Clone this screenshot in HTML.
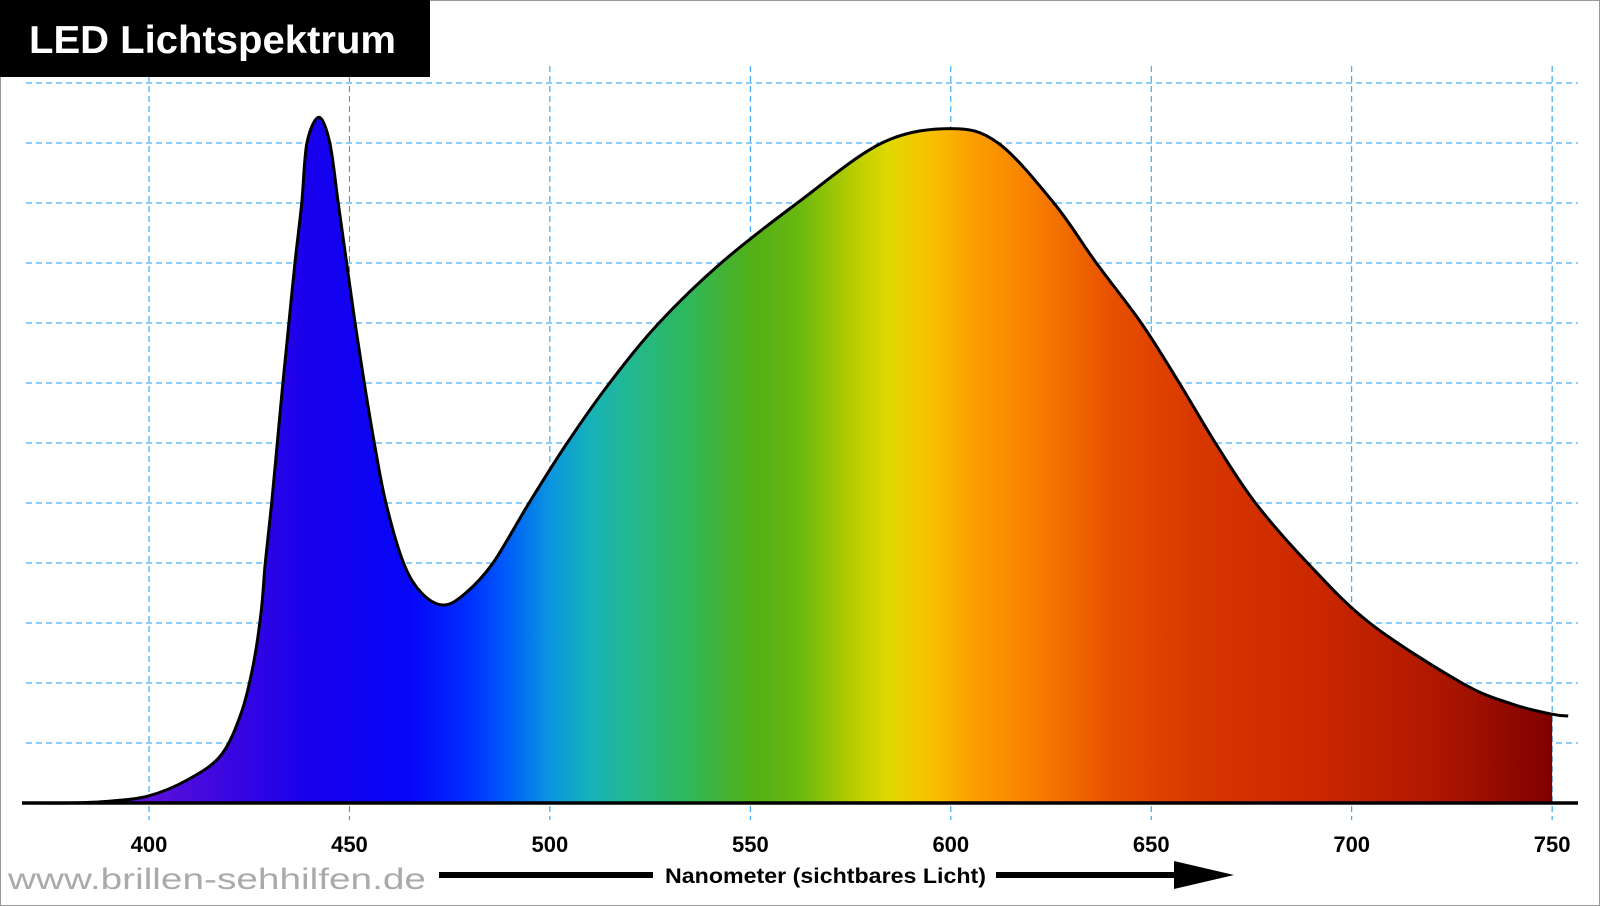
<!DOCTYPE html>
<html><head><meta charset="utf-8"><style>
html,body{margin:0;padding:0;background:#fff;}
svg{display:block;font-family:"Liberation Sans",sans-serif;}
</style></head><body>
<svg id="chart" width="1600" height="906" viewBox="0 0 1600 906" xmlns="http://www.w3.org/2000/svg">
<defs>
<linearGradient id="spec" gradientUnits="userSpaceOnUse" x1="0" y1="0" x2="1600" y2="0"></linearGradient>
<clipPath id="fillclip"><rect id="cliprect" x="0" y="0" width="0" height="906"></rect></clipPath>
</defs>
<rect x="0.5" y="0.5" width="1599" height="905" fill="#fff" stroke="#999"></rect>
<g id="grid"></g>
<path id="area" clip-path="url(#fillclip)" fill="url(#spec)"></path>
<path id="line" fill="none" stroke="#000" stroke-width="3"></path>
<line x1="22" y1="803" x2="1578" y2="803" stroke="#000" stroke-width="3.5"></line>
<g id="ticks"></g>
<rect x="0" y="0" width="430" height="77" fill="#000"></rect>
<text x="29" y="53" fill="#fff" font-size="39" font-weight="bold" textLength="367" lengthAdjust="spacingAndGlyphs">LED Lichtspektrum</text>
<text x="8" y="889" fill="#aaa" font-size="30" textLength="418" lengthAdjust="spacingAndGlyphs">www.brillen-sehhilfen.de</text>
<g>
<rect x="439" y="872" width="214" height="6" fill="#000"></rect>
<rect x="996" y="872" width="180" height="6" fill="#000"></rect>
<polygon points="1174,861 1234,875 1174,889" fill="#000"></polygon>
</g>
<text x="665" y="883" font-size="21" font-weight="bold" fill="#000" textLength="321" lengthAdjust="spacingAndGlyphs">Nanometer (sichtbares Licht)</text>
</svg>
<script>
const waveNm = [370,380,390,400,410,418,423,426,428,429,430.6,432,433.4,434.9,436.4,438.1,439.4,442.4,445.1,447.2,449.3,451.4,453.7,456.2,459.1,463.5,468,473.5,479,485.8,494.8,504.3,514.9,527.2,542.7,561.7,582.8,600,611.8,625.7,636.3,647.5,657,666,676,689,704.5,727.5,740,750,754];
const intensity = [0,0,0.03,0.12,0.4,0.8,1.5,2.3,3.2,4,5,6,7,8,9,10,11,11.43,11,10,9,8,7,6,5,4,3.5,3.3,3.5,4,5,6,7,8,9,10,11,11.24,11,10,9,8,7,6,5,4,3,2,1.65,1.48,1.45];
const tickNm = [400,450,500,550,600,650,700,750];
const tickLabels = ["400","450","500","550","600","650","700","750"];
const gridLevels = [1,2,3,4,5,6,7,8,9,10,11,12];
const gradStops = [[370,"#6a1ad0"],[400,"#5a10d8"],[420,"#3a06e0"],[440,"#1800ec"],[465,"#0606f8"],[480,"#0030ff"],[490,"#0060f8"],[500,"#0a95e0"],[510,"#16b2b8"],[520,"#22b890"],[535,"#30b858"],[550,"#52b018"],[562,"#68b810"],[575,"#b4cc00"],[585,"#e2d800"],[595,"#f8c000"],[605,"#fba000"],[620,"#f88000"],[640,"#e85000"],[660,"#d83800"],[690,"#cc2800"],[720,"#b01800"],[750,"#800000"]];
const NS="http://www.w3.org/2000/svg";
function xs(nm){return 149+(nm-400)*4.009;}
function ys(v){return 803-v*60;}
const g=document.getElementById('spec');
gradStops.forEach(s=>{const st=document.createElementNS(NS,'stop');st.setAttribute('offset',(xs(s[0])/1600).toFixed(4));st.setAttribute('stop-color',s[1]);g.appendChild(st);});
document.getElementById('cliprect').setAttribute('width',xs(750));
const grid=document.getElementById('grid');
gridLevels.forEach(l=>{const ln=document.createElementNS(NS,'line');


ln.setAttribute('x1',26);ln.setAttribute('x2',1578);ln.setAttribute('y1',ys(l));ln.setAttribute('y2',ys(l));
ln.setAttribute('stroke','#1a9af0');ln.setAttribute('stroke-dasharray','6,4');ln.setAttribute('stroke-width','1');grid.appendChild(ln);});
tickNm.forEach(n=>{const ln=document.createElementNS(NS,'line');


ln.setAttribute('x1',xs(n));ln.setAttribute('x2',xs(n));ln.setAttribute('y1',66);ln.setAttribute('y2',820);
ln.setAttribute('stroke','#1a9af0');ln.setAttribute('stroke-dasharray','6,4');ln.setAttribute('stroke-width','1');grid.appendChild(ln);});
const tk=document.getElementById('ticks');
tickNm.forEach((n,i)=>{const t=document.createElementNS(NS,'text');


t.setAttribute('x',xs(n));t.setAttribute('y',852);t.setAttribute('text-anchor','middle');t.setAttribute('font-size','22');t.setAttribute('font-weight','bold');t.setAttribute('fill','#000');t.textContent=tickLabels[i];tk.appendChild(t);});
const P=waveNm.map((n,i)=>[xs(n),ys(intensity[i])]);
let d='M'+P[0][0]+','+P[0][1];
for(let i=0;i<P.length-1;i++){const p0=P[Math.max(0,i-1)],p1=P[i],p2=P[i+1],p3=P[Math.min(P.length-1,i+2)];
let c1=[p1[0]+(p2[0]-p0[0])/6,p1[1]+(p2[1]-p0[1])/6],c2=[p2[0]-(p3[0]-p1[0])/6,p2[1]-(p3[1]-p1[1])/6];
d+=` C${c1[0].toFixed(2)},${c1[1].toFixed(2)} ${c2[0].toFixed(2)},${c2[1].toFixed(2)} ${p2[0].toFixed(2)},${p2[1].toFixed(2)}`;}
document.getElementById('line').setAttribute('d',d);
document.getElementById('area').setAttribute('d',d+` L${P[P.length-1][0]},803 L${P[0][0]},803 Z`);
</script>
</body></html>
